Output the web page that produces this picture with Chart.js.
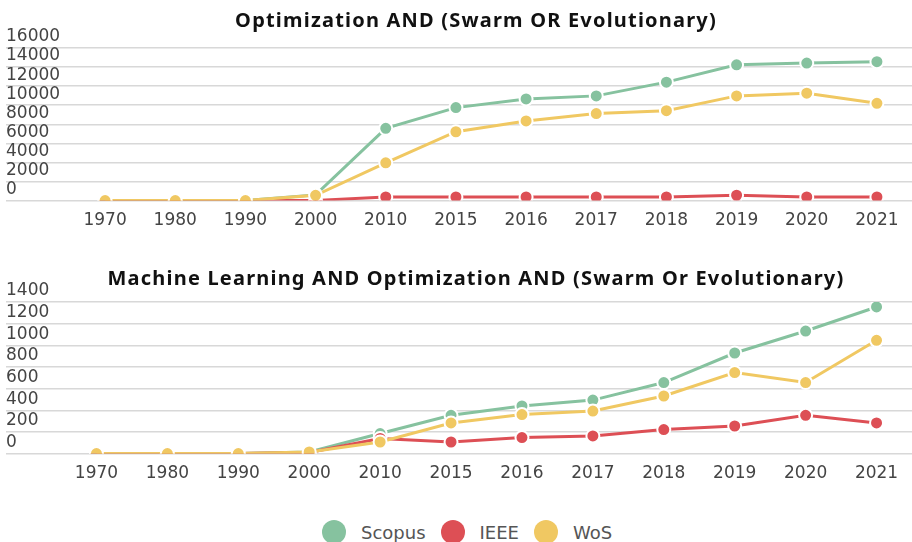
<!DOCTYPE html>
<html>
<head>
<meta charset="utf-8">
<script src="https://cdn.jsdelivr.net/npm/chart.js@4"></script>
<style>
  html, body { margin: 0; padding: 0; background: #fff; }
  body { width: 912px; height: 542px; position: relative; overflow: hidden; font-family: "DejaVu Sans", sans-serif; }
  .chart-title {
    position: absolute; left: 40px; right: 0; text-align: center; letter-spacing: 1.2px;
    font: bold 20px "Noto Sans", sans-serif; color: #111; line-height: 24px; z-index: 2;
  }
  #title-top { top: 8px; }
  #title-bottom { top: 266px; }
  canvas { position: absolute; left: 0; }
  #chartTop { top: 0; }
  #chartBottom { top: 240px; }
  #html-legend { position: absolute; top: 520px; left: 322px; }
  #html-legend ul { list-style: none; margin: 0; padding: 0; display: flex; align-items: center; }
  #html-legend li { display: flex; align-items: center; margin-right: 15px; font-size: 18px; color: #555; }
  .legend-swatch { width: 24px; height: 24px; border-radius: 50%; display: inline-block; margin-right: 15px; }
</style>
</head>
<body>
<div class="chart-title" id="title-top">Optimization AND (Swarm OR Evolutionary)</div>
<div class="chart-title" id="title-bottom">Machine Learning AND Optimization AND (Swarm Or Evolutionary)</div>
<canvas id="chartTop" width="912" height="241"></canvas>
<canvas id="chartBottom" width="912" height="262"></canvas>
<div id="html-legend"></div>
<script>
const years = ["1970", "1980", "1990", "2000", "2010", "2015", "2016", "2017", "2018", "2019", "2020", "2021"];
const seriesNames = ["Scopus", "IEEE", "WoS"];
const seriesColors = ["#86c29f", "#dd4f55", "#f0c862"];

// Optimization AND (Swarm OR Evolutionary)
const topScopus = [0, 0, 0, 600, 7580, 9750, 10660, 10980, 12420, 14240, 14420, 14560];
const topIeee   = [0, 0, 0, 20, 380, 380, 380, 380, 380, 560, 380, 380];
const topWos    = [0, 0, 0, 550, 3960, 7220, 8350, 9120, 9430, 10980, 11260, 10200];

// Machine Learning AND Optimization AND (Swarm Or Evolutionary)
const botScopus = [0, 0, 0, 15, 185, 354, 440, 494, 656, 929, 1132, 1354];
const botIeee   = [0, 0, 0, 10, 140, 107, 148, 163, 222, 255, 354, 283];
const botWos    = [0, 0, 0, 15, 107, 283, 360, 393, 532, 748, 656, 1046];

const topTicks = [0, 2000, 4000, 6000, 8000, 10000, 12000, 14000, 16000];
const botTicks = [0, 200, 400, 600, 800, 1000, 1200, 1400];

function makeDatasets(values) {
  // WoS on top, Scopus at the back
  const order = [2, 1, 0];
  return values.map((data, i) => ({
    label: seriesNames[i],
    data,
    order: order[i],
    borderColor: seriesColors[i],
    backgroundColor: seriesColors[i],
    pointBackgroundColor: seriesColors[i],
    pointBorderColor: "#fff",
    pointBorderWidth: 2,
    pointRadius: 6.5,
    borderWidth: 3,
    tension: 0
  }));
}

function makeChart(canvas, values, ticks, max, axisWidth, padTop, padLeft, padBottom) {
  return new Chart(canvas, {
    type: "line",
    data: { labels: years, datasets: makeDatasets(values) },
    options: {
      responsive: false,
      animation: false,
      layout: { autoPadding: false, padding: { top: padTop, left: padLeft, right: 0, bottom: padBottom } },
      plugins: { legend: { display: false }, title: { display: false }, tooltip: { enabled: false } },
      scales: {
        x: {
          offset: true,
          grid: { display: false, drawTicks: false },
          border: { display: false },
          ticks: { color: "#444", padding: 10, autoSkip: false, maxRotation: 0, font: { family: "DejaVu Sans", size: 17 } }
        },
        y: {
          min: 0,
          max: max,
          afterBuildTicks: (scale) => { scale.ticks = ticks.map(v => ({ value: v })); },
          // gridline "ticks" run under the labels out to the left edge
          afterFit: (scale) => { scale.width = axisWidth; },
          grid: { color: "#d8d8d8", lineWidth: 1.5, drawTicks: true, tickLength: axisWidth, tickColor: "#d8d8d8" },
          border: { display: false },
          ticks: {
            color: "#444",
            crossAlign: "far",
            padding: 0,
            autoSkip: false,
            labelOffset: -11,
            callback: (v) => String(v),
            font: { family: "DejaVu Sans", size: 17 }
          }
        }
      }
    }
  });
}

const chartTop = makeChart(document.getElementById("chartTop"),
  [topScopus, topIeee, topWos], topTicks, 16000, 64, 48, 6, 0);
const chartBottom = makeChart(document.getElementById("chartBottom"),
  [botScopus, botIeee, botWos], botTicks, 1400, 55, 62, 6, 8);

// shared legend under both charts
const ul = document.createElement("ul");
seriesNames.forEach((name, i) => {
  const li = document.createElement("li");
  const swatch = document.createElement("span");
  swatch.className = "legend-swatch";
  swatch.style.background = seriesColors[i];
  const text = document.createElement("span");
  text.textContent = name;
  li.appendChild(swatch);
  li.appendChild(text);
  ul.appendChild(li);
});
document.getElementById("html-legend").appendChild(ul);
</script>
</body>
</html>
